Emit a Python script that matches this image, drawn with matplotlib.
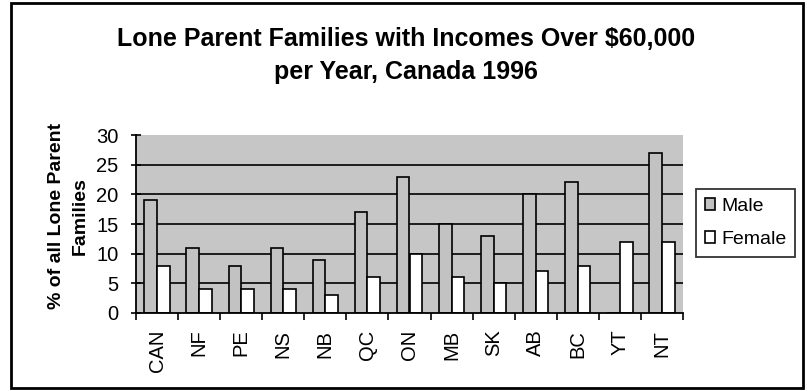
import numpy as np
import matplotlib
matplotlib.use("Agg")
import matplotlib.pyplot as plt
from matplotlib.patches import Rectangle

plt.rcParams['font.family'] = ['Liberation Sans', 'DejaVu Sans']

provinces = ['CAN', 'NF', 'PE', 'NS', 'NB', 'QC', 'ON', 'MB', 'SK', 'AB', 'BC', 'YT', 'NT']
male = [19, 11, 8, 11, 9, 17, 23, 15, 13, 20, 22, 0, 27]
female = [8, 4, 4, 4, 3, 6, 10, 6, 5, 7, 8, 12, 12]

fig = plt.figure(figsize=(8.07, 3.91), dpi=100)
ax = fig.add_axes([136/807, 1 - 313/391, (683-136)/807, (313-135)/391])

x = np.arange(len(provinces))
w = 0.3
ax.set_facecolor('#c6c6c6')
for yv in [5, 10, 15, 20, 25]:
    ax.axhline(yv, color='black', lw=1.2, zorder=1)
ax.bar(x - w/2, male, w, color='#c2c2c2', edgecolor='black', lw=1.2, label='Male', zorder=2)
ax.bar(x + w/2, female, w, color='white', edgecolor='black', lw=1.2, label='Female', zorder=2)

ax.set_xlim(-0.5, len(provinces) - 0.5)
ax.set_ylim(0, 30)
ax.set_yticks(range(0, 31, 5))
ax.set_xticks(x)
ax.set_xticklabels(provinces, rotation=90, fontsize=14.5)
# tick marks sit between the categories
ax.set_xticks(np.arange(-0.5, len(provinces), 1), minor=True)
ax.tick_params(axis='x', which='major', length=0, pad=12)
ax.tick_params(axis='x', which='minor', length=5, width=1.2, direction='out')
ax.tick_params(axis='y', labelsize=14.5, length=7, width=1.2, direction='inout', pad=9)
for s in ['top', 'right']:
    ax.spines[s].set_visible(False)
for s in ['left', 'bottom']:
    ax.spines[s].set_linewidth(1.3)

ax.set_ylabel('% of all Lone Parent\nFamilies', fontsize=14, fontweight='bold', linespacing=1.5)
ax.yaxis.set_label_coords(-0.087, 0.545)

fig.text(0.503, 0.858, 'Lone Parent Families with Incomes Over $60,000\nper Year, Canada 1996',
         ha='center', va='center', fontsize=18, fontweight='bold', linespacing=1.5)

leg = fig.legend(loc='center left', bbox_to_anchor=(696/807, 1 - 223/391), fontsize=14,
                 frameon=True, fancybox=False, edgecolor='black', handlelength=0.55,
                 handleheight=0.55, handletextpad=0.3, borderpad=0.45, labelspacing=0.8,
                 borderaxespad=0)
leg.get_frame().set_linewidth(1.3)

# outer border round the whole chart
fig.patches.append(Rectangle((11/807, 3/391), (803-11)/807, (388-3)/391, transform=fig.transFigure,
                             fill=False, edgecolor='black', lw=2))

fig.savefig('out.png', dpi=100)
